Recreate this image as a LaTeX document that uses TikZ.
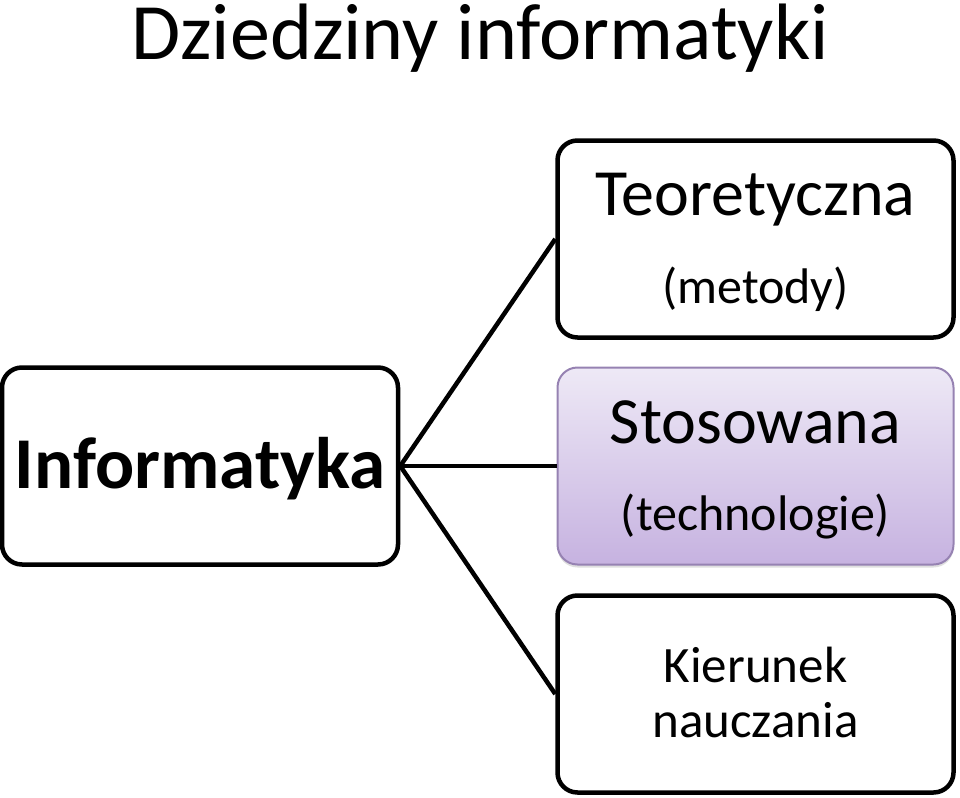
\documentclass[tikz,border=0pt]{standalone}
\usepackage{fontspec}
\setmainfont{Carlito}
\usetikzlibrary{shadows}
\definecolor{boxtop}{RGB}{238,233,246}
\definecolor{boxbot}{RGB}{198,178,224}
\definecolor{boxline}{RGB}{150,130,178}
\tikzset{
  box/.style={draw=black, line width=4.5pt, rounded corners=20pt, minimum width=396pt, minimum height=197pt, inner sep=0pt, fill=white},
  purplebox/.style={draw=boxline, line width=2pt, rounded corners=20pt, minimum width=396pt, minimum height=197pt, inner sep=0pt, top color=boxtop, bottom color=boxbot,
    drop shadow={opacity=0.25, shadow xshift=0pt, shadow yshift=-3pt}},
  conn/.style={line width=4.5pt, draw=black},
  lbl/.style={anchor=base, inner sep=0pt}
}
\begin{document}
\begin{tikzpicture}[x=1pt, y=-1pt]
\useasboundingbox (0,0) rectangle (960,797);
\node[lbl, font=\fontsize{80}{88}\selectfont] (title) at (480,60) {Dziedziny informatyki};

\node[box] (inf) at (200,466) {};
\node[box] (teo) at (755.5,239) {};
\node[purplebox] (sto) at (755.5,466) {};
\node[box] (kie) at (755.5,694) {};

\draw[conn] (inf.east) -- (teo.west);
\draw[conn] (inf.east) -- (sto.west);
\draw[conn] (inf.east) -- (kie.west);

\node[lbl, font=\fontsize{73}{80}\selectfont\bfseries] (inftext) at (200,488) {Informatyka};
\node[lbl, font=\fontsize{66}{72}\selectfont] (teotext) at (755.5,215) {Teoretyczna};
\node[lbl, font=\fontsize{50}{56}\selectfont] (teosub) at (755.5,303) {(metody)};
\node[lbl, font=\fontsize{66}{72}\selectfont] (stotext) at (755.5,443) {Stosowana};
\node[lbl, font=\fontsize{50}{56}\selectfont] (stosub) at (755.5,530) {(technologie)};
\node[lbl, font=\fontsize{51}{55}\selectfont] (kietext1) at (755.5,682) {Kierunek};
\node[lbl, font=\fontsize{51}{55}\selectfont] (kietext2) at (755.5,737) {nauczania};
\end{tikzpicture}
\end{document}
